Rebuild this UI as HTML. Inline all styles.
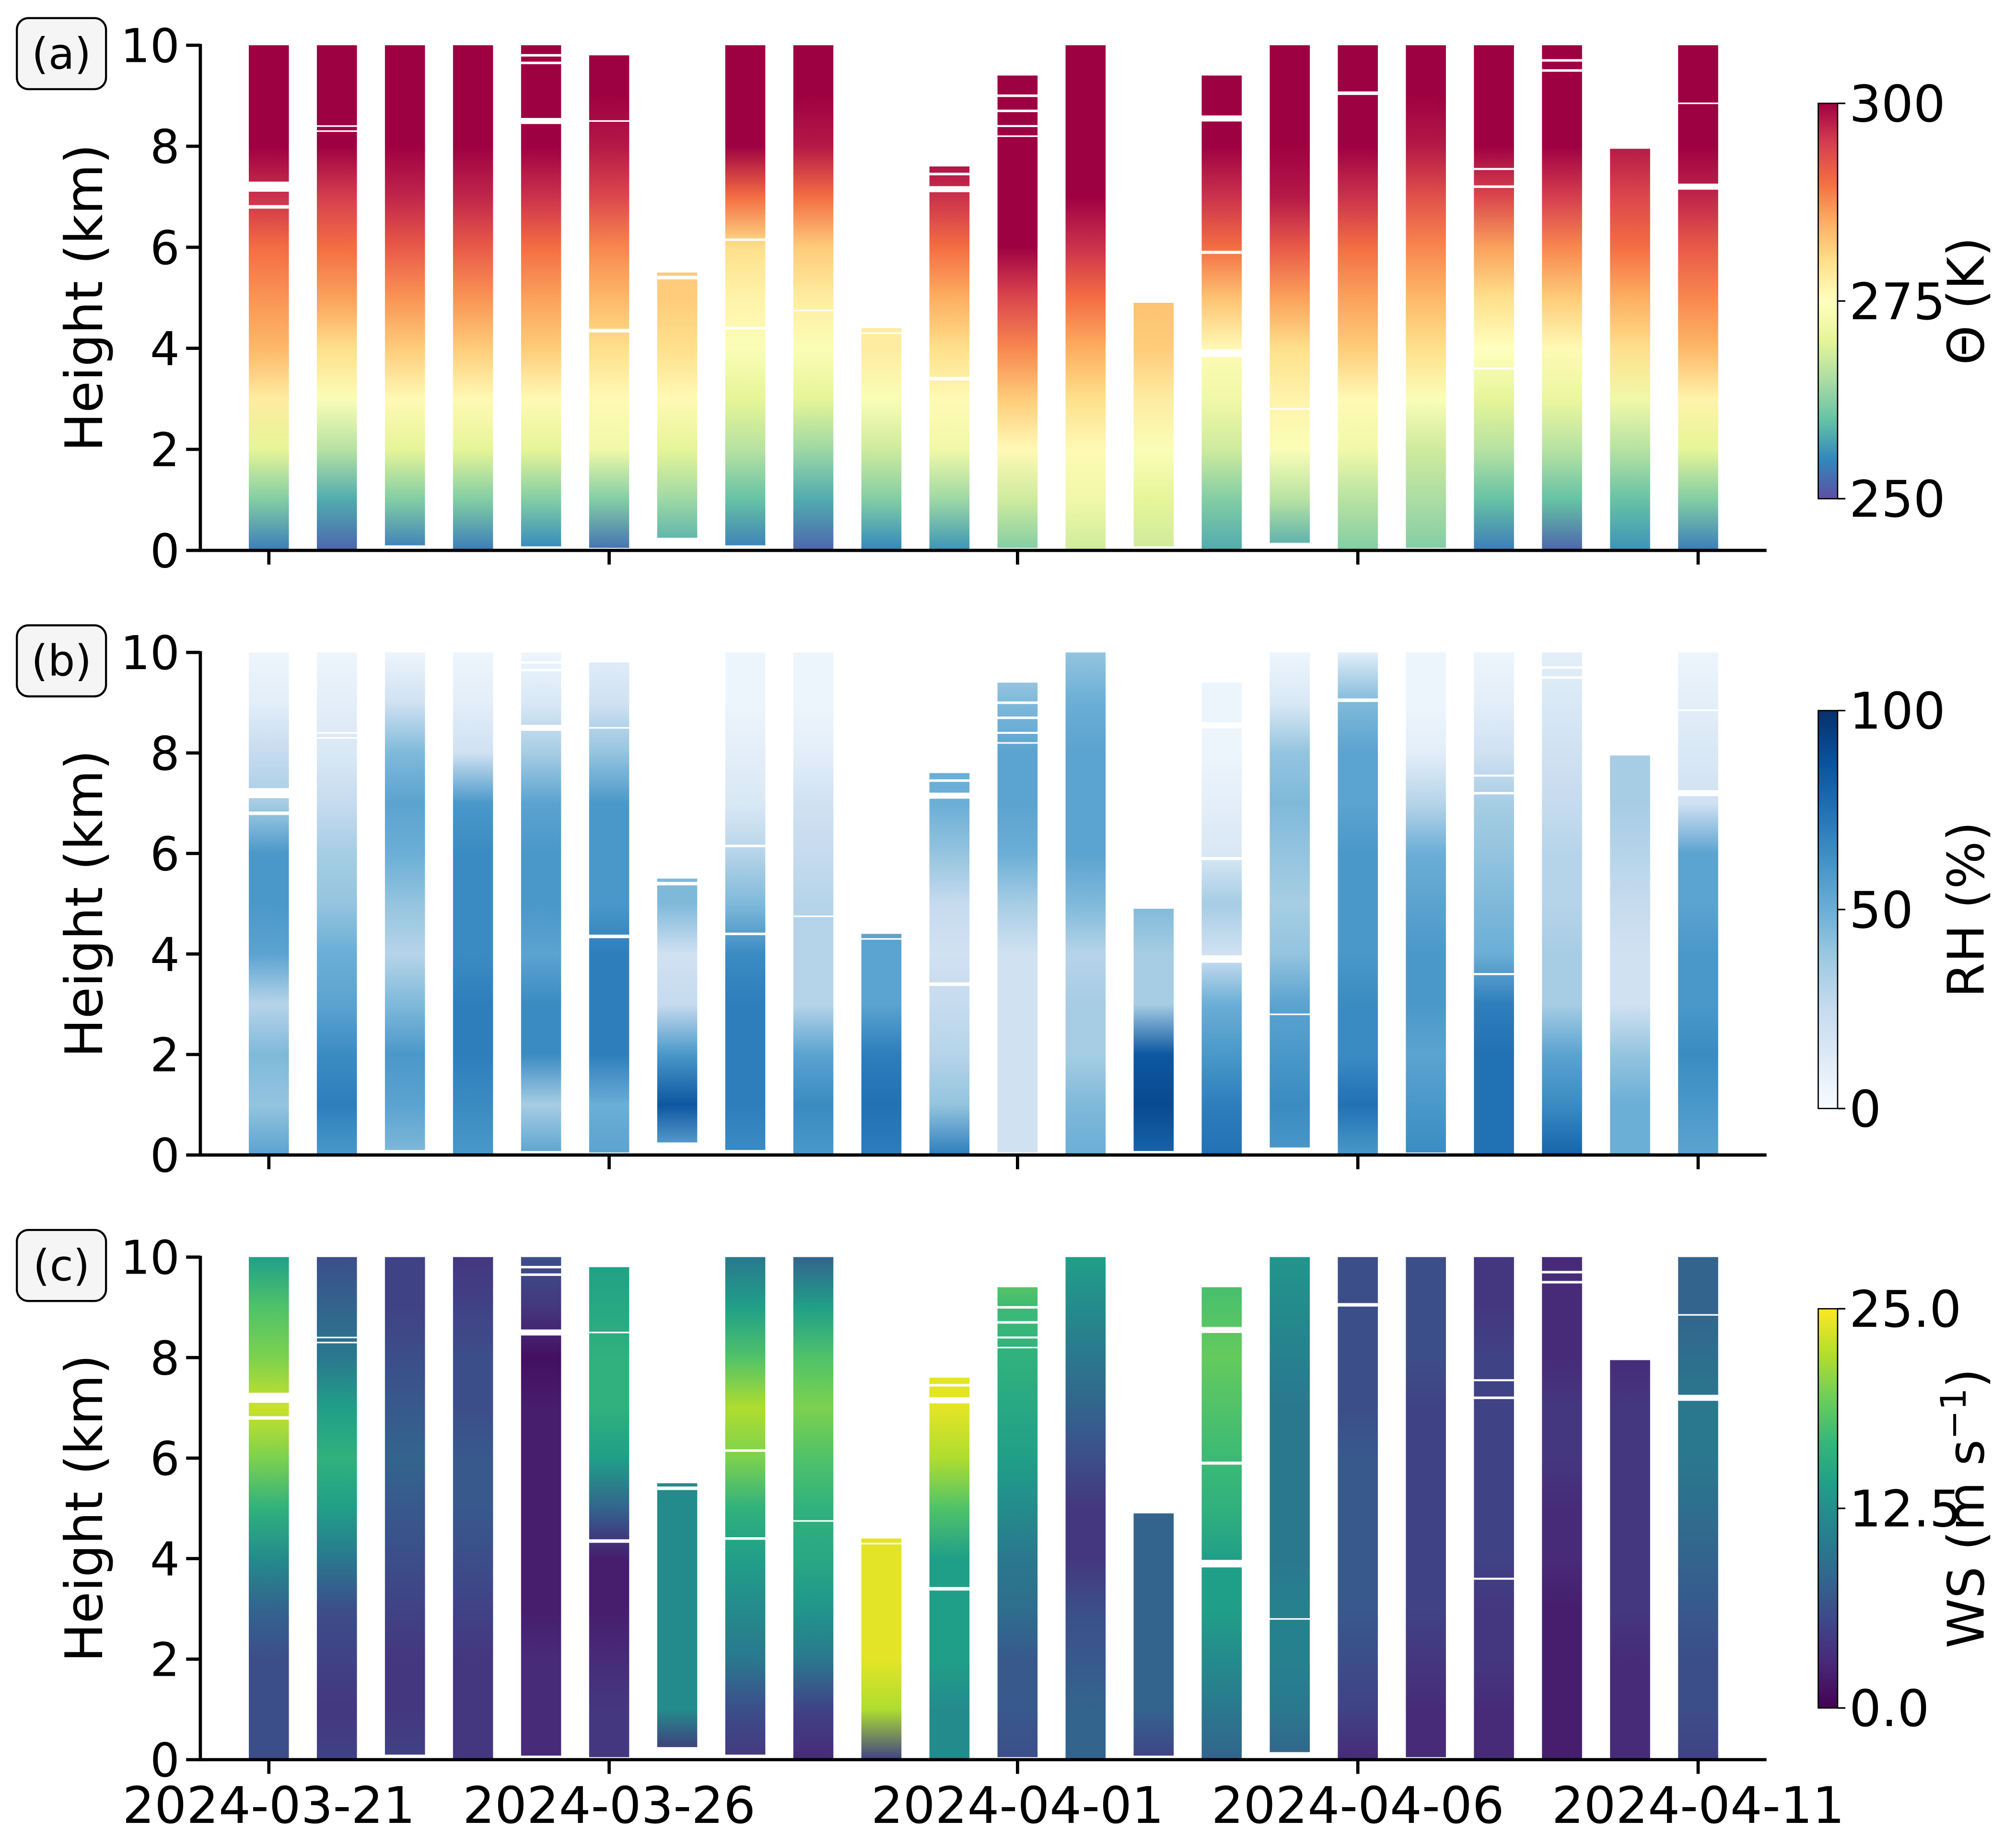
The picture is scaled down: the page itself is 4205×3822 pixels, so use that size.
<!DOCTYPE html>
<html><head><meta charset="utf-8"><style>
html,body{margin:0;padding:0;background:#fff;}
svg{display:block;font-family:"DejaVu Sans","Liberation Sans",sans-serif;}
</style></head><body>
<svg id="fig" xmlns="http://www.w3.org/2000/svg" width="4205" height="3822" viewBox="0 0 1560 1418">
<defs id="defs"></defs>
</svg>
<script>
// ---- data ----
const dayOffsets = [0,1,2,3,4,5,6,7,8,9,10,11,12,13,14,15,16,17,18,19,20,21];
const barTops =    [10,10,10,10,10,9.8,5.5,10,10,4.4,7.6,9.4,10,4.9,9.4,10,10,10,10,10,7.95,10];
const barBottoms = [0,0,0.1,0,0.08,0.05,0.25,0.1,0,0,0,0.05,0,0.08,0,0.15,0,0.05,0,0,0,0];
const profileHeights = [0,1,2,3,4,5,6,7,8,9,10];
const theta = [
[254,262,270,278,284,287,290,296,300,300,300],
[252,258,266,274,280,286,290,295,300,300,300],
[254,262,270,276,282,287,292,297,300,300,300],
[254,262,270,276,282,287,292,297,300,300,300],
[255,262,270,276,282,286,290,296,300,300,300],
[253,262,272,276,280,284,288,294,298,300,300],
[258,264,270,276,280,282,282],
[254,260,266,270,274,277,280,290,300,300,300],
[252,258,264,270,274,278,282,290,298,300,300],
[255,262,268,274,278],
[256,264,272,276,280,285,290,296,300],
[262,268,276,282,288,294,300,300,300,300,300],
[268,272,276,280,285,290,296,300,300,300,300],
[268,270,274,278,282,283],
[258,262,268,272,276,283,290,296,300,300,300],
[258,266,274,277,280,286,292,298,300,300,300],
[262,266,272,276,282,286,290,296,300,300,300],
[262,265,268,274,280,284,288,293,298,300,300],
[254,260,266,270,275,280,286,294,300,300,300],
[252,260,266,271,276,282,288,295,300,300,300],
[256,260,266,272,280,285,290,294,298],
[254,262,270,277,284,288,292,297,300,300,300]];
const rh = [
[55,40,45,30,55,60,60,35,25,10,5],
[60,70,65,55,50,40,35,25,15,10,5],
[45,55,60,45,30,40,50,55,45,20,5],
[60,65,70,70,65,65,65,60,20,10,5],
[55,35,65,65,55,60,60,55,35,15,5],
[55,50,70,70,70,60,60,60,40,20,10],
[50,85,60,25,20,45,45],
[65,70,70,70,65,45,30,15,10,5,5],
[60,65,55,30,30,30,25,20,10,5,5],
[70,75,70,55,55],
[70,40,30,25,20,25,40,50,50],
[20,20,20,20,20,35,50,55,55,45,30],
[50,45,35,35,30,45,55,55,55,50,40],
[80,90,85,35,35,45],
[75,70,60,50,20,35,15,10,5,5,5],
[60,65,60,55,40,35,40,45,40,15,5],
[60,75,65,65,60,60,60,55,55,45,10],
[65,60,55,60,60,55,50,30,10,5,5],
[75,75,75,70,50,45,40,35,20,10,5],
[80,65,55,35,35,30,30,25,20,15,10],
[50,50,40,20,20,25,30,35,35],
[55,60,65,60,60,55,55,20,15,10,5]];
const ws = [
[6,6,6,8,12,16,20,23,20,18,14],
[5,4,5,6,10,14,16,14,10,8,6],
[5,4,4,5,6,7,8,7,6,5,5],
[4,4,4,5,6,7,7,6,6,5,4],
[3,3,3,2,2,2,2,2,1,4,6],
[4,4,3,2,2,8,14,16,16,15,14],
[3,12,12,12,12,12],
[4,6,10,12,14,16,20,22,18,14,10],
[3,5,10,13,15,16,18,20,18,14,8],
[5,22,24,24,24],
[12,12,14,14,14,18,22,24,24],
[6,7,7,9,10,12,14,15,16,17,20],
[8,8,7,6,4,4,6,8,10,12,14],
[5,8,8,8,8,8],
[8,10,12,14,14,16,17,18,19,18,17],
[8,10,11,11,10,10,10,10,11,12,13],
[3,5,6,7,7,7,7,6,6,6,6],
[3,3,4,5,5,5,5,5,6,6,6],
[3,3,4,4,5,5,5,5,5,4,4],
[2,2,2,2,3,3,4,4,3,3,3],
[3,3,3,4,4,4,4,4,3],
[5,6,6,7,8,9,10,10,9,8,8]];
// gaps: [bar index, height km, thickness km]
const gaps = [[0,7.2,0.2],[0,6.8,0.07],[1,8.4,0.03],[1,8.3,0.03],[4,9.8,0.05],[4,9.65,0.05],[4,8.5,0.12],[5,4.35,0.07],[5,8.5,0.03],
[6,5.4,0.07],[7,6.15,0.05],[7,4.4,0.05],[8,4.75,0.03],[9,4.3,0.03],[10,7.45,0.05],[10,7.15,0.12],[10,3.4,0.07],
[11,9.0,0.05],[11,8.7,0.05],[11,8.4,0.04],[11,8.2,0.03],[14,8.55,0.12],[14,5.9,0.06],[14,3.9,0.15],[15,2.8,0.03],
[16,9.05,0.07],[18,7.55,0.04],[18,7.2,0.05],[18,3.6,0.04],[19,9.7,0.05],[19,9.5,0.05],[21,7.2,0.12],[21,8.85,0.03]];
const yTicks = [0,2,4,6,8,10];
const xTickDays = [0,5,11,16,21];
const xTickLabels = ["2024-03-21","2024-03-26","2024-04-01","2024-04-06","2024-04-11"];

// ---- colormaps ----
const spectral = ["#5e4fa2","#3288bd","#66c2a5","#abdda4","#e6f598","#ffffbf","#fee08b","#fdae61","#f46d43","#d53e4f","#9e0142"];
const blues = ["#f7fbff","#deebf7","#c6dbef","#9ecae1","#6baed6","#4292c6","#2171b5","#08519c","#08306b"];
const viridis = ["#440154","#482878","#3e4989","#31688e","#26828e","#1f9e89","#35b779","#6ece58","#b5de2b","#fde725"];
function hex(h){return [1,3,5].map(i=>parseInt(h.substr(i,2),16));}
function cmap(stops,t){t=Math.max(0,Math.min(1,t));const n=stops.length-1;const f=t*n;const i=Math.min(n-1,Math.floor(f));const u=f-i;
 const a=hex(stops[i]),b=hex(stops[i+1]);return "rgb("+a.map((v,k)=>Math.round(v+(b[k]-v)*u)).join(",")+")";}

const NS="http://www.w3.org/2000/svg";
const svg=document.getElementById('fig'), defs=document.getElementById('defs');
function el(tag,attrs,parent){const e=document.createElementNS(NS,tag);for(const k in attrs)e.setAttribute(k,attrs[k]);(parent||svg).appendChild(e);return e;}

const xL=155,xR=1367,day0=208,dayW=52.67,barW=31;
const xs=d=>day0+d*dayW;
const panels=[
 {key:'a',top:35,bot:426,data:theta,vmin:250,vmax:300,stops:spectral,cbTop:80,cbBot:386,cbTicks:[250,275,300],cbFmt:v=>String(v),label:'Θ (K)'},
 {key:'b',top:505,bot:894,data:rh,vmin:0,vmax:100,stops:blues,cbTop:550,cbBot:858,cbTicks:[0,50,100],cbFmt:v=>String(v),label:'RH (%)'},
 {key:'c',top:973,bot:1362,data:ws,vmin:0,vmax:25,stops:viridis,cbTop:1013,cbBot:1322,cbTicks:[0,12.5,25],cbFmt:v=>v.toFixed(1),label:'WS'}
];
panels.forEach(p=>{
 const ys=h=>p.bot-(h/10)*(p.bot-p.top);
 const g=el('g',{});
 
 
 dayOffsets.forEach((d,i)=>{
  const gid='g'+p.key+i;
  const lg=el('linearGradient',{id:gid,gradientUnits:'userSpaceOnUse',x1:0,x2:0,y1:ys(0),y2:ys(10)},defs);
  p.data[i].forEach((v,j)=>{el('stop',{offset:(profileHeights[j]/10),'stop-color':cmap(p.stops,(v-p.vmin)/(p.vmax-p.vmin))},lg);});
  const r=el('rect',{x:xs(d)-barW/2,y:ys(barTops[i]),width:barW,height:ys(barBottoms[i])-ys(barTops[i]),fill:'url(#'+gid+')'},g);
  
  
 });
 gaps.forEach(gp=>{
  const r=el('rect',{x:xs(dayOffsets[gp[0]])-barW/2-0.5,y:ys(gp[1]+gp[2]/2),width:barW+1,height:Math.max(1.2,ys(0)-ys(gp[2])),fill:'#fff'},g);
  
  
 });
 const ax=el('path',{d:`M${xL} ${p.top-1}V${p.bot}H${xR}`,fill:'none',stroke:'#000','stroke-width':2.5},g);
 
 
 yTicks.forEach(t=>{
  el('line',{x1:xL-11,x2:xL,y1:ys(t),y2:ys(t),stroke:'#000','stroke-width':2.5},g);
  const tx=el('text',{x:xL-16,y:ys(t)+13,'text-anchor':'end','font-size':36},g);tx.textContent=t;
  
  
 });
 xTickDays.forEach((d,k)=>{
  el('line',{x1:xs(d),x2:xs(d),y1:p.bot,y2:p.bot+11,stroke:'#000','stroke-width':2.5},g);
  if(p.key==='c'){const tx=el('text',{x:xs(d),y:p.bot+49,'text-anchor':'middle','font-size':39},g);tx.textContent=xTickLabels[k];
   
   }
 });
 const yl=el('text',{x:0,y:0,transform:`translate(79 ${(p.top+p.bot)/2}) rotate(-90)`,'text-anchor':'middle','font-size':40},g);
 yl.textContent='Height (km)';
 
 
 const bx=el('rect',{x:13,y:p.top-21,width:69,height:55,rx:9,fill:'#f5f5f5',stroke:'#000','stroke-width':1.6},g);
 
 
 const pl=el('text',{x:47.5,y:p.top+18,'text-anchor':'middle','font-size':33},g);pl.textContent='('+p.key+')';
 
 
 const cid='cb'+p.key;
 const cg=el('linearGradient',{id:cid,x1:0,x2:0,y1:1,y2:0},defs);
 p.stops.forEach((c,k)=>el('stop',{offset:k/(p.stops.length-1),'stop-color':c},cg));
 const cb=el('rect',{x:1407,y:p.cbTop,width:15,height:p.cbBot-p.cbTop,fill:'url(#'+cid+')',stroke:'#000','stroke-width':1},g);
 
 
 const cs=v=>p.cbBot-(v-p.vmin)/(p.vmax-p.vmin)*(p.cbBot-p.cbTop);
 p.cbTicks.forEach(t=>{
  el('line',{x1:1422,x2:1428,y1:cs(t),y2:cs(t),stroke:'#000','stroke-width':1.2},g);
  const tx=el('text',{x:1431,y:cs(t)+14,'font-size':39},g);tx.textContent=p.cbFmt(t);
  
  
 });
 const cl=el('text',{x:0,y:0,transform:`translate(1535 ${(p.cbTop+p.cbBot)/2}) rotate(-90)`,'text-anchor':'middle','font-size':39},g);
 if(p.key==='c'){cl.innerHTML='WS (m s<tspan dy="-14" font-size="27">−1</tspan><tspan dy="14">)</tspan>';}
 else cl.textContent=p.label;
 
 
});
</script>
</body></html>
